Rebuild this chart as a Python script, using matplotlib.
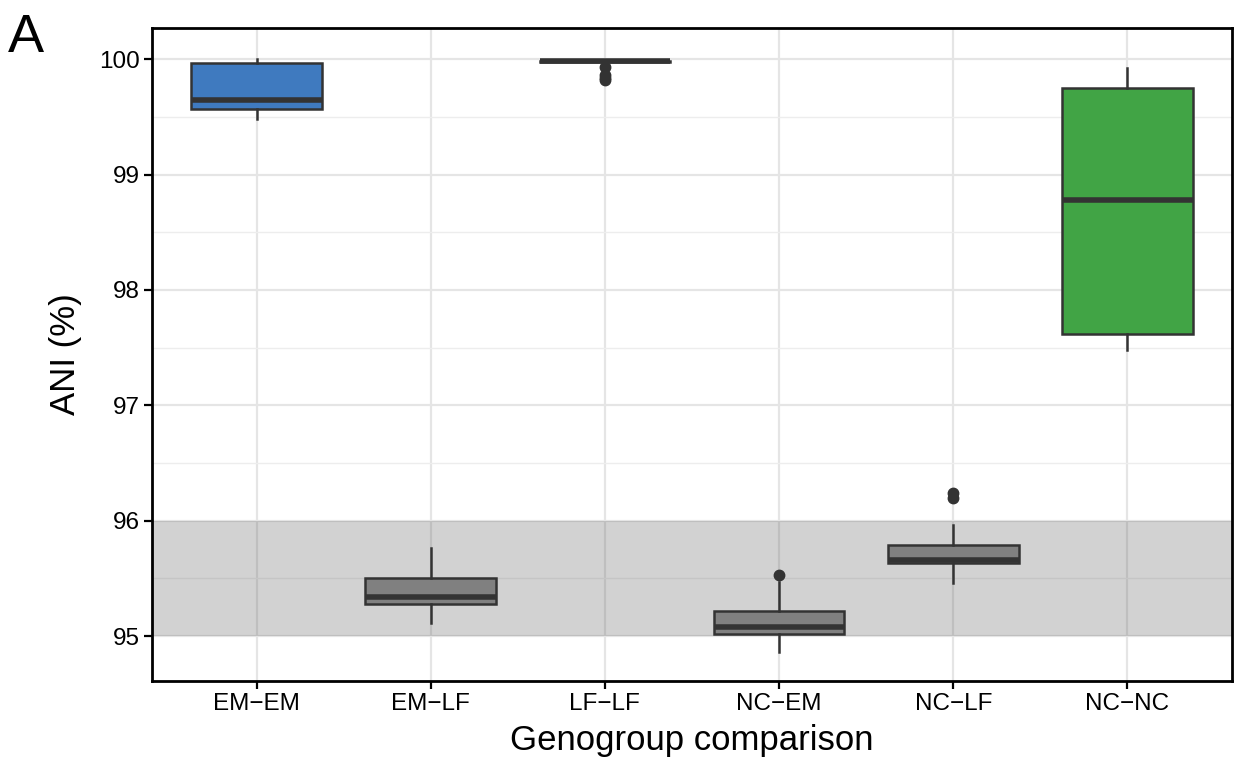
import matplotlib
matplotlib.use("Agg")
import matplotlib.pyplot as plt

categories = ["EM\u2212EM", "EM\u2212LF", "LF\u2212LF", "NC\u2212EM", "NC\u2212LF", "NC\u2212NC"]
whislo = [99.48, 95.11, 99.97, 94.86, 95.46, 97.48]
q1 = [99.57, 95.28, 99.975, 95.02, 95.63, 97.62]
med = [99.65, 95.34, 99.98, 95.08, 95.66, 98.78]
q3 = [99.965, 95.50, 99.985, 95.22, 95.79, 99.75]
whishi = [100.0, 95.76, 99.99, 95.47, 95.96, 99.92]
outliers = [[], [], [99.93, 99.86, 99.84, 99.82], [95.53], [96.20, 96.24], []]
colors = ["#3F7ABF", "#808080", "#808080", "#808080", "#808080", "#41A445"]
yticks = [95, 96, 97, 98, 99, 100]

plt.rcParams['font.family'] = ['Liberation Sans', 'DejaVu Sans']
fig = plt.figure(figsize=(12.36, 7.64), dpi=100)
ax = fig.add_axes([152/1236, 1-681/764, (1232-152)/1236, (681-28)/764])

stats = []
for i in range(len(categories)):
    stats.append(dict(whislo=whislo[i], q1=q1[i], med=med[i], q3=q3[i],
                      whishi=whishi[i], fliers=outliers[i], label=categories[i]))

edge = "#333333"
bp = ax.bxp(stats, positions=range(len(categories)), widths=0.75, patch_artist=True,
            showcaps=False,
            boxprops=dict(edgecolor=edge, linewidth=1.8),
            medianprops=dict(color=edge, linewidth=4.0, solid_capstyle='butt'),
            whiskerprops=dict(color=edge, linewidth=1.8),
            flierprops=dict(marker='o', markerfacecolor=edge, markeredgecolor=edge, markersize=7.5),
            zorder=3)
for patch, c in zip(bp['boxes'], colors):
    patch.set_facecolor(c)

ax.axhspan(95, 96, color="#4F4F4F", alpha=0.25, linewidth=0, zorder=2)

ax.set_xlim(-0.6, len(categories) - 0.4)
ax.set_ylim(94.61, 100.27)
ax.set_yticks(yticks)
ax.set_yticklabels([str(v) for v in yticks])
ax.set_yticks([95.5, 96.5, 97.5, 98.5, 99.5], minor=True)
ax.set_xticks(range(len(categories)))
ax.set_xticklabels(categories)

ax.grid(True, which='major', color='#E5E5E5', linewidth=1.6, zorder=0)
ax.grid(True, which='minor', axis='y', color='#EDEDED', linewidth=1.0, zorder=0)
ax.set_axisbelow(True)
ax.tick_params(axis='both', which='major', labelsize=17.5, length=6, width=1.6, color='black', labelcolor='black', pad=3)
ax.tick_params(axis='y', which='minor', length=0)
for s in ax.spines.values():
    s.set_linewidth(2)
    s.set_color('black')
    s.set_zorder(5)

ax.set_xlabel("Genogroup comparison", fontsize=25, labelpad=6)
ax.set_ylabel("ANI (%)", fontsize=25, labelpad=12)

fig.text(8/1236, 1-52/764, "A", fontsize=39, ha='left', va='baseline')

fig.savefig("out.png", dpi=100)
